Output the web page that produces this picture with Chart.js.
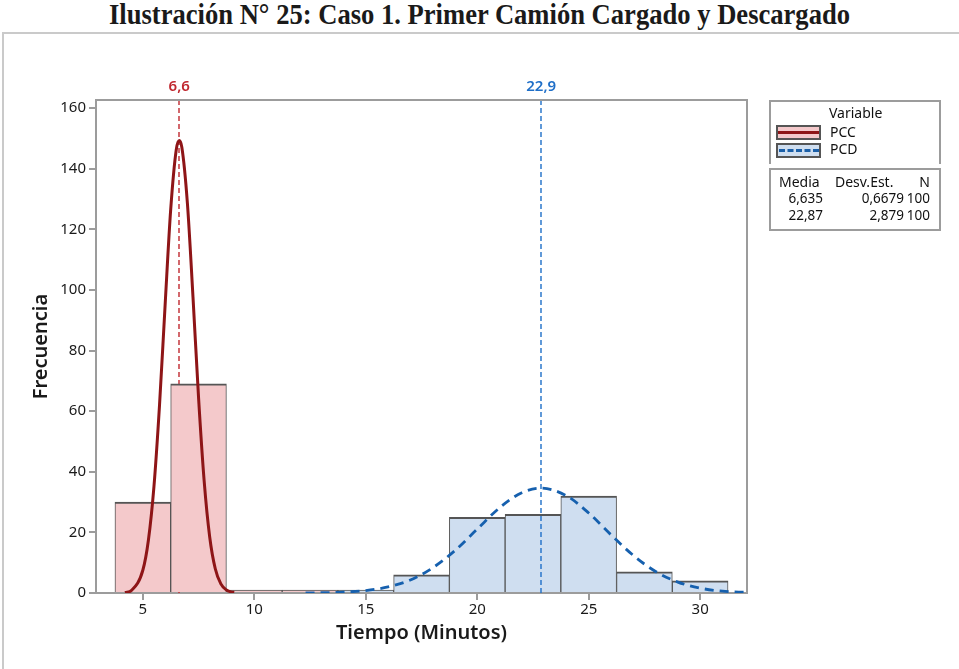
<!DOCTYPE html>
<html>
<head>
<meta charset="utf-8">
<script src="https://cdn.jsdelivr.net/npm/chart.js@4"></script>
<style>
  body { margin: 0; background: #fff; }
  #wrap { position: relative; width: 959px; height: 669px; overflow: hidden; font-family: "Noto Sans", "Open Sans", sans-serif; color: #1a1a1a; }
  #title { position: absolute; left: 0; top: -3px; width: 959px; text-align: center; font-family: "Liberation Serif", "Times New Roman", serif; font-weight: bold; font-size: 30px; transform: scaleX(0.886); white-space: nowrap; }
  #frame { position: absolute; left: 2px; top: 32px; width: 970px; height: 700px; border-left: 2px solid #cacaca; border-top: 2px solid #cacaca; }
  canvas { position: absolute; left: 0; top: 0; }
  .box { position: absolute; left: 769px; width: 168px; border: 2px solid #9c9c9c; font-size: 14px; color: #111; }
  .box span { position: absolute; white-space: nowrap; line-height: 17px; }
  .box span.n { font-size: 13.5px; }
  .sw { position: absolute; left: 5px; width: 41px; height: 11px; border: 2px solid #555; }
</style>
</head>
<body>
<div id="wrap">
  <div id="title">Ilustración N° 25: Caso 1. Primer Camión Cargado y Descargado</div>
  <div id="frame"></div>
  <canvas id="c" width="959" height="669"></canvas>
  <div class="box" style="top:100px;height:62px;border-bottom:none;">
    <span style="left:58px;top:2px;">Variable</span>
    <div class="sw" style="top:23px;background:#f4c9cb;"><div style="position:absolute;left:0;right:0;top:4px;height:3px;background:#8e1517;"></div></div>
    <span style="left:59px;top:21px;">PCC</span>
    <div class="sw" style="top:41px;background:#cfdef0;"><div style="position:absolute;left:1px;right:0;top:4px;height:0;border-top:3px dashed #1a5fa8;"></div></div>
    <span style="left:59px;top:38px;">PCD</span>
  </div>
  <div class="box" style="top:168px;height:59px;">
    <span style="left:8px;top:3px;">Media</span>
    <span style="left:64px;top:3px;">Desv.Est.</span>
    <span style="right:9px;top:3px;">N</span>
    <span class="n" style="right:116px;top:20px;">6,635</span>
    <span class="n" style="right:35px;top:20px;">0,6679</span>
    <span class="n" style="right:9px;top:20px;">100</span>
    <span class="n" style="right:116px;top:37px;">22,87</span>
    <span class="n" style="right:35px;top:37px;">2,879</span>
    <span class="n" style="right:9px;top:37px;">100</span>
  </div>
</div>
<script>
// histogram bins (width 2,5) and counts
const pccBins = [5, 7.5, 10, 12.5];
const pccCounts = [30, 69, 1, 0];
const pcdBins = [15, 17.5, 20, 22.5, 25, 27.5, 30];
const pcdCounts = [0, 6, 25, 26, 32, 7, 4];

// fitted normal curves
const pccCurveX = [4.2, 4.5, 5.0, 5.25, 5.5, 5.75, 6.0, 6.25, 6.5, 6.635, 6.75, 7.0, 7.25, 7.5, 7.75, 8.0, 8.25, 8.5, 8.75, 9.0, 9.1];
const pccCurveY = [0.1, 0.9, 7.5, 17.4, 35.2, 62.1, 95.0, 126.5, 146.3, 149.3, 147.1, 128.6, 97.7, 64.5, 37.1, 18.5, 8.0, 3.0, 1.0, 0.3, 0.2];
const pcdCurveX = [12.3, 13, 14, 15, 16, 17, 18, 19, 20, 21, 22, 22.87, 24, 25, 26, 27, 28, 29, 30, 31, 32.1];
const pcdCurveY = [0.04, 0.1, 0.3, 0.8, 2.0, 4.3, 8.3, 14.0, 21.1, 28.1, 33.1, 34.6, 32.1, 26.4, 19.2, 12.4, 7.1, 3.6, 1.6, 0.6, 0.2];

const means = [6.635, 22.87];
const meanLabels = ["6,6", "22,9"];
const meanColors = ["#c0282f", "#1f6fc8"];
const meanOnTop = [false, true];

const xTicks = [5, 10, 15, 20, 25, 30];
const yTicks = [0, 20, 40, 60, 80, 100, 120, 140, 160];

const font = '"Noto Sans", "Open Sans", sans-serif';

function drawMean(chart, i) {
  const { ctx, chartArea: a, scales: { x } } = chart;
  const px = Math.round(x.getPixelForValue(means[i]));
  ctx.save();
  ctx.strokeStyle = meanColors[i];
  ctx.lineWidth = 1.4;
  ctx.setLineDash([5, 3]);
  ctx.beginPath();
  ctx.moveTo(px, a.top);
  ctx.lineTo(px, a.bottom);
  ctx.stroke();
  ctx.restore();
}

const extras = {
  id: "extras",
  beforeDatasetsDraw(chart) {
    means.forEach((m, i) => { if (!meanOnTop[i]) drawMean(chart, i); });
  },
  afterDatasetsDraw(chart) {
    means.forEach((m, i) => { if (meanOnTop[i]) drawMean(chart, i); });
    const { ctx, chartArea: a, scales: { x } } = chart;
    ctx.save();
    ctx.strokeStyle = "#9c9c9c";
    ctx.lineWidth = 2;
    ctx.beginPath();
    ctx.moveTo(a.left, a.top);
    ctx.lineTo(a.right, a.top);
    ctx.lineTo(a.right, a.bottom);
    ctx.stroke();
    ctx.font = "600 15px " + font;
    ctx.textAlign = "center";
    ctx.textBaseline = "middle";
    means.forEach((m, i) => {
      ctx.fillStyle = meanColors[i];
      ctx.fillText(meanLabels[i], x.getPixelForValue(m), a.top - 13);
    });
    ctx.restore();
  }
};

const barStyle = { type: "bar", borderColor: "#555555", borderWidth: { top: 2, left: 1, right: 1, bottom: 0 }, borderSkipped: false, minBarLength: 3, barPercentage: 1, categoryPercentage: 1, grouped: false, order: 2 };

new Chart(document.getElementById("c"), {
  data: {
    datasets: [
      { ...barStyle, label: "PCC", backgroundColor: "#f4c9cb", data: pccBins.map((b, i) => ({ x: b, y: pccCounts[i] })) },
      { ...barStyle, label: "PCD", backgroundColor: "#cfdef0", data: pcdBins.map((b, i) => ({ x: b, y: pcdCounts[i] })) },
      { type: "line", label: "PCC ajuste", data: pccCurveX.map((v, i) => ({ x: v, y: pccCurveY[i] })), borderColor: "#8e1517", borderWidth: 3, pointRadius: 0, cubicInterpolationMode: "monotone", order: 1 },
      { type: "line", label: "PCD ajuste", data: pcdCurveX.map((v, i) => ({ x: v, y: pcdCurveY[i] })), borderColor: "#1660ae", borderWidth: 2.8, borderDash: [9, 6], pointRadius: 0, cubicInterpolationMode: "monotone", order: 1 }
    ]
  },
  options: {
    responsive: false,
    animation: false,
    layout: { padding: { left: 29, right: 212, top: 100, bottom: 24 } },
    plugins: { legend: { display: false }, tooltip: { enabled: false } },
    scales: {
      x: {
        type: "linear", min: 2.9, max: 32.1, offset: false,
        afterFit: s => { s.height = 52; },
        afterBuildTicks: s => { s.ticks = xTicks.map(v => ({ value: v })); },
        ticks: { font: { family: font, size: 15 }, color: "#1a1a1a", padding: 1, callback: v => String(v) },
        grid: { offset: false, drawOnChartArea: false, drawTicks: true, tickLength: 7, color: "#9c9c9c", lineWidth: 2 },
        border: { display: true, color: "#9c9c9c", width: 2 },
        title: { display: true, text: "Tiempo (Minutos)", font: { family: font, size: 20, weight: "600" }, color: "#1a1a1a", padding: 0 }
      },
      y: {
        type: "linear", min: 0, max: 162.7,
        afterFit: s => { s.width = 67; },
        afterBuildTicks: s => { s.ticks = yTicks.map(v => ({ value: v })); },
        ticks: { font: { family: font, size: 15 }, color: "#1a1a1a", padding: 3, callback: v => String(v) },
        grid: { drawOnChartArea: false, drawTicks: true, tickLength: 7, color: "#9c9c9c", lineWidth: 2 },
        border: { display: true, color: "#9c9c9c", width: 2 },
        title: { display: true, text: "Frecuencia", font: { family: font, size: 20, weight: "600" }, color: "#1a1a1a", padding: 0 }
      }
    }
  },
  plugins: [extras]
});
</script>
</body>
</html>
